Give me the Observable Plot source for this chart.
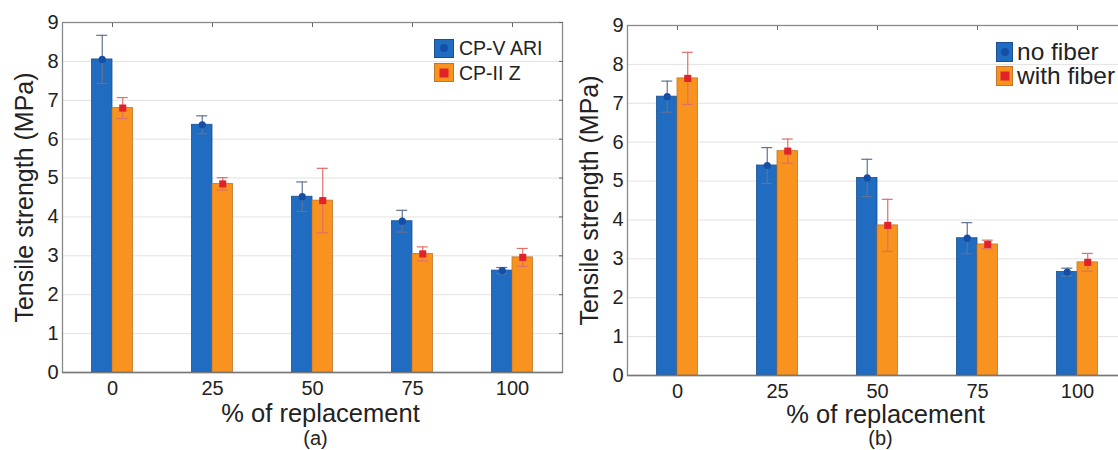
<!DOCTYPE html>
<html>
<head>
<meta charset="utf-8">
<script src="https://cdn.jsdelivr.net/npm/d3@7"></script>
<script src="https://cdn.jsdelivr.net/npm/@observablehq/plot@0.6"></script>
<style>
  body { margin: 0; background: #fff; font-family: "Liberation Sans", Arial, sans-serif; }
  #wrap { position: relative; width: 1118px; height: 450px; overflow: hidden; background: #fff; }
  .panel { position: absolute; top: 0; }
  .legend { position: absolute; color: #222; }
  .legend .row { display: flex; align-items: center; white-space: nowrap; }
  .sw { position: relative; box-sizing: border-box; flex: none; }
  .sw .in { position: absolute; left: 50%; top: 50%; transform: translate(-50%, -50%); }
</style>
</head>
<body>
<div id="wrap"></div>
<script>
// ---- data ----
const categories = ["0", "25", "50", "75", "100"];

const seriesA = ["CP-V ARI", "CP-II Z"];
const cpvAri    = [8.05, 6.37, 4.52, 3.89, 2.62];
const cpvAriErr = [0.62, 0.23, 0.38, 0.28, 0.08];
const cpiiZ     = [6.80, 4.85, 4.42, 3.05, 2.96];
const cpiiZErr  = [0.27, 0.16, 0.83, 0.18, 0.23];

const seriesB = ["no fiber", "with fiber"];
const noFiber      = [7.17, 5.40, 5.08, 3.53, 2.66];
const noFiberErr   = [0.40, 0.46, 0.48, 0.40, 0.10];
const withFiber    = [7.64, 5.77, 3.86, 3.37, 2.91];
const withFiberErr = [0.67, 0.31, 0.67, 0.11, 0.23];

const yTicks = [0, 1, 2, 3, 4, 5, 6, 7, 8, 9];

// ---- styles ----
const BLUE = "#1f6cc0", BLUE_EDGE = "#1b4f8f", BLUE_DOT = "#164ea6", BLUE_ERR = "#5f7396";
const ORANGE = "#f7931e", ORANGE_EDGE = "#c0762c", RED_DOT = "#e2222a", RED_ERR = "#e0706a";
const FONT = "'Liberation Sans', Arial, sans-serif";

function rows(vals, errs) {
  return categories.map((c, i) => ({cat: c, v: vals[i], lo: vals[i] - errs[i], hi: vals[i] + errs[i]}));
}

function panel({vals1, errs1, vals2, errs2, caption, width, marginLeft, marginRight, marginTop, marginBottom, labelDy, captionDy}) {
  const d1 = rows(vals1, errs1), d2 = rows(vals2, errs2);
  const half = 50, bw = 20.5, cap = 5.5;
  return Plot.plot({
    width, height: 450,
    marginLeft, marginRight, marginTop, marginBottom,
    style: {fontFamily: FONT, maxWidth: "none", overflow: "visible", background: "transparent", color: "#222"},
    x: {type: "band", domain: categories, padding: 0},
    y: {domain: [0, 9], ticks: yTicks},
    marks: [
      Plot.gridY(yTicks, {stroke: "#e2e2e2", strokeOpacity: 1}),
      Plot.frame({stroke: "#8a8a8a", strokeWidth: 1.3}),
      Plot.axisX({anchor: "top", tickSize: -4, tickFormat: () => "", stroke: "#666", label: null}),
      Plot.axisY(yTicks, {anchor: "right", tickSize: -4, tickFormat: () => "", stroke: "#666", label: null}),
      Plot.axisY(yTicks, {anchor: "left", tickSize: 0, tickPadding: 4, fontSize: 20, label: null, fill: "#222"}),
      Plot.axisX({anchor: "bottom", tickSize: 0, tickPadding: 8, fontSize: 20, label: null, fill: "#222"}),
      // bars
      Plot.barY(d1, {x: "cat", y: "v", fill: BLUE, stroke: BLUE_EDGE, strokeWidth: 0.8, insetLeft: half - bw, insetRight: half}),
      Plot.barY(d2, {x: "cat", y: "v", fill: ORANGE, stroke: ORANGE_EDGE, strokeWidth: 0.8, insetLeft: half, insetRight: half - bw}),
      Plot.ruleY([0], {stroke: "#777", strokeWidth: 1.5}),
      // error bars
      Plot.ruleX(d1, {x: "cat", y1: "lo", y2: "hi", dx: -bw / 2, stroke: BLUE_ERR, strokeWidth: 1.2}),
      Plot.tickY(d1, {x: "cat", y: "hi", insetLeft: half - bw / 2 - cap, insetRight: half + bw / 2 - cap, stroke: BLUE_ERR, strokeWidth: 1.2}),
      Plot.tickY(d1, {x: "cat", y: "lo", insetLeft: half - bw / 2 - cap, insetRight: half + bw / 2 - cap, stroke: BLUE_ERR, strokeWidth: 1.2}),
      Plot.ruleX(d2, {x: "cat", y1: "lo", y2: "hi", dx: bw / 2, stroke: RED_ERR, strokeWidth: 1.2}),
      Plot.tickY(d2, {x: "cat", y: "hi", insetLeft: half + bw / 2 - cap, insetRight: half - bw / 2 - cap, stroke: RED_ERR, strokeWidth: 1.2}),
      Plot.tickY(d2, {x: "cat", y: "lo", insetLeft: half + bw / 2 - cap, insetRight: half - bw / 2 - cap, stroke: RED_ERR, strokeWidth: 1.2}),
      // markers
      Plot.dot(d1, {x: "cat", y: "v", dx: -bw / 2, r: 3.6, fill: BLUE_DOT, stroke: null}),
      Plot.dot(d2, {x: "cat", y: "v", dx: bw / 2, r: 4, symbol: "square", fill: RED_DOT, stroke: null}),
      // labels
      Plot.text(["Tensile strength (MPa)"], {frameAnchor: "left", textAnchor: "middle", lineAnchor: "middle", rotate: -90, dx: -38, fontSize: 25, fill: "#222"}),
      Plot.text(["% of replacement"], {frameAnchor: "bottom", textAnchor: "middle", lineAnchor: "middle", dx: 8, dy: labelDy, fontSize: 25.5, fill: "#222"}),
      Plot.text([caption], {frameAnchor: "bottom", textAnchor: "middle", lineAnchor: "middle", dx: 3, dy: captionDy, fontSize: 20, fill: "#222"})
    ]
  });
}

const wrap = document.getElementById("wrap");

const left = panel({vals1: cpvAri, errs1: cpvAriErr, vals2: cpiiZ, errs2: cpiiZErr, caption: "(a)",
  width: 575, marginLeft: 62, marginRight: 13, marginTop: 22, marginBottom: 78, labelDy: 41, captionDy: 66});
left.classList.add("panel");
left.style.left = "0px";
wrap.appendChild(left);

const right = panel({vals1: noFiber, errs1: noFiberErr, vals2: withFiber, errs2: withFiberErr, caption: "(b)",
  width: 580, marginLeft: 67, marginRight: 13, marginTop: 25, marginBottom: 75, labelDy: 39, captionDy: 63});
right.classList.add("panel");
right.style.left = "560px";
wrap.appendChild(right);

// ---- legends ----
function legend(names, {left, top, sw, fontSize, rowH, gap}) {
  const div = document.createElement("div");
  div.className = "legend";
  div.style.left = left + "px";
  div.style.top = top + "px";
  div.style.fontSize = fontSize + "px";
  div.style.lineHeight = rowH + "px";
  names.forEach((name, i) => {
    const row = document.createElement("div");
    row.className = "row";
    row.style.height = rowH + "px";
    const s = document.createElement("div");
    s.className = "sw";
    s.style.width = sw[0] + "px";
    s.style.height = sw[1] + "px";
    s.style.marginRight = gap + "px";
    s.style.background = i === 0 ? BLUE : ORANGE;
    s.style.border = "1.5px solid " + (i === 0 ? BLUE_EDGE : ORANGE_EDGE);
    const inner = document.createElement("div");
    inner.className = "in";
    if (i === 0) {
      inner.style.width = "8px"; inner.style.height = "8px"; inner.style.borderRadius = "50%"; inner.style.background = BLUE_DOT;
    } else {
      inner.style.width = "9px"; inner.style.height = "9px"; inner.style.background = RED_DOT;
    }
    s.appendChild(inner);
    const t = document.createElement("span");
    t.textContent = name;
    row.appendChild(s);
    row.appendChild(t);
    div.appendChild(row);
  });
  wrap.appendChild(div);
}

legend(seriesA, {left: 434, top: 36, sw: [20, 19], fontSize: 19.5, rowH: 24.5, gap: 5});
legend(seriesB, {left: 996, top: 40, sw: [17, 20], fontSize: 24.5, rowH: 24, gap: 4});
</script>
</body>
</html>
